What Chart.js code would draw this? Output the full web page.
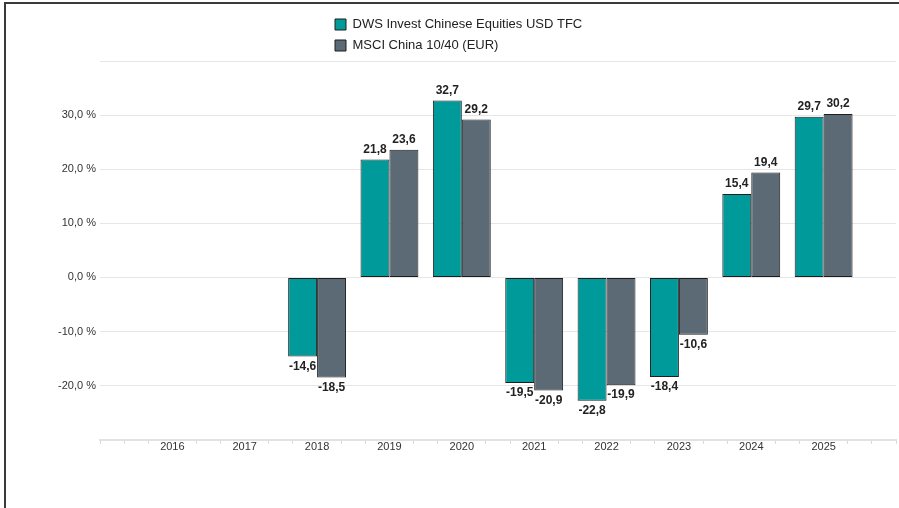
<!DOCTYPE html>
<html><head><meta charset="utf-8">
<script src="https://cdn.jsdelivr.net/npm/chart.js@4/dist/chart.umd.min.js"></script>
<style>
html,body{margin:0;padding:0;background:#fff;}
#wrap{position:relative;width:899px;height:508px;overflow:hidden;}
#frame{position:absolute;left:4px;top:2px;width:1000px;height:1000px;border-left:2px solid #3a3a3a;border-top:2px solid #3a3a3a;pointer-events:none;}
canvas{position:absolute;left:0;top:0;}
</style></head><body>
<div id="wrap"><canvas id="c" width="899" height="508"></canvas><div id="frame"></div></div>
<script>
const years = ['2016','2017','2018','2019','2020','2021','2022','2023','2024','2025'];
const seriesNames = ['DWS Invest Chinese Equities USD TFC', 'MSCI China 10/40 (EUR)'];
const dwsValues  = [null, null, -14.6, 21.8, 32.7, -19.5, -22.8, -18.4, 15.4, 29.7];
const msciValues = [null, null, -18.5, 23.6, 29.2, -20.9, -19.9, -10.6, 19.4, 30.2];
const yTickValues = [-20, -10, 0, 10, 20, 30];

const FONT = "'Liberation Sans', Arial, sans-serif";
const STEP = 3; // each category spans 3 minor tick steps

function toPoints(vals) { return vals.map((v, i) => ({ x: i * STEP, y: v })); }
function fmt(v) { return v.toFixed(1).replace('.', ','); }

const valueLabels = {
  id: 'valueLabels',
  afterDatasetsDraw(chart) {
    const ctx = chart.ctx;
    ctx.save();
    ctx.font = 'bold 12px ' + FONT;
    ctx.fillStyle = '#222';
    ctx.textAlign = 'center';
    ctx.textBaseline = 'middle';
    chart.data.datasets.forEach((ds, di) => {
      const meta = chart.getDatasetMeta(di);
      meta.data.forEach((el, i) => {
        const v = ds.data[i].y;
        if (v === null || v === undefined) return;
        const y = v >= 0 ? el.y - 10 : el.y + 10;
        ctx.fillText(fmt(v), el.x, y);
      });
    });
    ctx.restore();
  }
};

const legendPlacement = {
  id: 'legendPlacement',
  afterLayout(chart) {
    const lg = chart.legend;
    if (!lg) return;
    lg.left = 327; lg.right = 600; lg.width = 273;
    lg.top = 10; lg.height = 50; lg.bottom = 60;
  }
};

new Chart(document.getElementById('c'), {
  type: 'bar',
  data: {
    datasets: [
      { label: seriesNames[0], data: toPoints(dwsValues), backgroundColor: '#009a9b', borderColor: '#1e1e1e', borderWidth: 1, borderSkipped: false },
      { label: seriesNames[1], data: toPoints(msciValues), backgroundColor: '#5b6a74', borderColor: '#1e1e1e', borderWidth: 1, borderSkipped: false }
    ]
  },
  options: {
    responsive: false,
    animation: false,
    devicePixelRatio: 1,
    // minor ticks are a third of a category apart, so 0.8 of a category = 2.4 of the minimum gap
    categoryPercentage: 0.8 * STEP,
    barPercentage: 1.0,
    layout: { padding: { top: 30, left: 0, right: 3, bottom: 57 } },
    plugins: {
      tooltip: { enabled: false },
      legend: {
        position: 'top',
        align: 'start',
        labels: { boxWidth: 11, boxHeight: 11, padding: 8, color: '#222', font: { family: FONT, size: 13 } }
      }
    },
    scales: {
      x: {
        type: 'linear',
        min: -STEP,
        max: years.length * STEP,
        offset: false,
        grid: {
          offset: false,
          drawOnChartArea: false,
          tickLength: 4,
          tickColor: (c) => {
            const v = c.tick ? c.tick.value : null;
            if (v !== null && v % STEP === 0 && v >= 0 && v / STEP < years.length) return 'rgba(0,0,0,0)';
            return '#d6d6d6';
          }
        },
        border: { display: true, color: '#e2e2e2', width: 2 },
        ticks: {
          stepSize: 1,
          autoSkip: false,
          maxRotation: 0,
          padding: -3,
          color: '#333',
          font: { family: FONT, size: 11 },
          callback: (v) => (v % STEP === 0 && v >= 0 && v / STEP < years.length) ? years[v / STEP] : ''
        }
      },
      y: {
        min: -30,
        max: 40,
        afterFit: (s) => { s.width = 100; },
        grid: { color: '#e6e6e6', drawTicks: false },
        border: { display: false },
        ticks: {
          stepSize: 10,
          padding: 4,
          color: '#333',
          font: { family: FONT, size: 11 },
          callback: (v) => yTickValues.includes(v) ? fmt(v) + ' %' : ''
        }
      }
    }
  },
  plugins: [valueLabels, legendPlacement]
});
</script>
</body></html>
